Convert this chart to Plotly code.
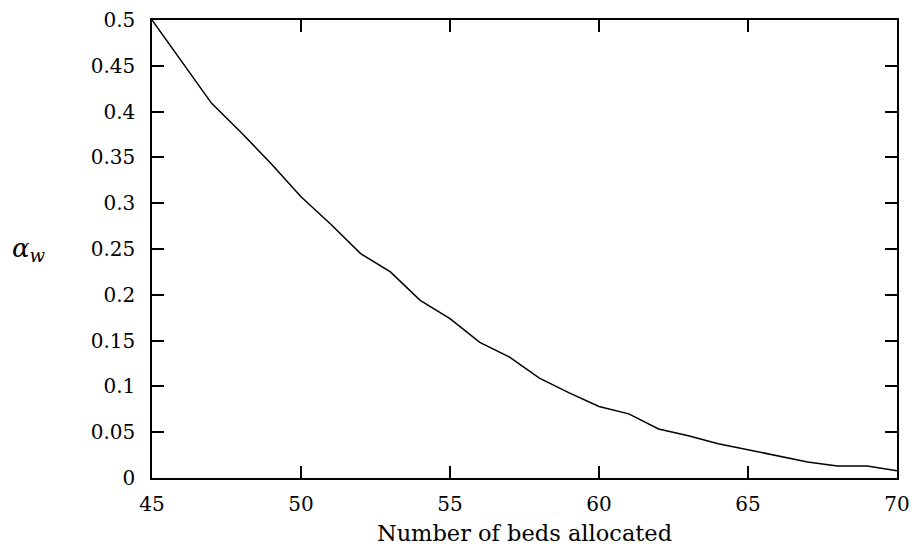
import plotly.graph_objects as go

beds = [45, 46, 47, 48, 49, 50, 51, 52, 53, 54, 55, 56, 57, 58, 59, 60,
        61, 62, 63, 64, 65, 66, 67, 68, 69, 70]
alpha_w = [0.5, 0.455, 0.409, 0.377, 0.343, 0.307, 0.277, 0.245, 0.225, 0.194,
           0.174, 0.148, 0.132, 0.109, 0.093, 0.078, 0.070, 0.0535, 0.0462,
           0.0375, 0.031, 0.0237, 0.0175, 0.0131, 0.0131, 0.008]

x_ticks = [45, 50, 55, 60, 65, 70]
y_ticks = [0, 0.05, 0.1, 0.15, 0.2, 0.25, 0.3, 0.35, 0.4, 0.45, 0.5]
y_ticktext = ["0", "0.05", "0.1", "0.15", "0.2", "0.25", "0.3", "0.35", "0.4", "0.45", "0.5"]

FONT = "DejaVu Serif, Liberation Serif, serif"

fig = go.Figure()
fig.add_trace(go.Scatter(x=beds, y=alpha_w, mode="lines",
                         line=dict(color="black", width=1.5),
                         showlegend=False, hoverinfo="skip"))

axis_common = dict(showgrid=False, zeroline=False, showline=True, mirror="ticks",
                   linecolor="black", linewidth=1.5, ticks="inside", ticklen=12,
                   tickwidth=1.5, tickcolor="black", automargin=False,
                   tickfont=dict(family=FONT, size=20, color="black"))

fig.update_xaxes(range=[45, 70], tickvals=x_ticks, ticktext=[str(v) for v in x_ticks],
                 title=dict(text="Number of beds allocated",
                            font=dict(family=FONT, size=22.5, color="black"),
                            standoff=10),
                 ticklabelstandoff=7,
                 **axis_common)
fig.update_yaxes(range=[0, 0.5], tickvals=y_ticks, ticktext=y_ticktext,
                 ticklabelstandoff=11,
                 **axis_common)

fig.add_annotation(text="<i>α</i><sub><i>w</i></sub>", xref="paper", yref="paper",
                   x=-0.19, y=0.5, xanchor="left", yanchor="middle", showarrow=False,
                   font=dict(family=FONT, size=26, color="black"))

fig.update_layout(width=912, height=549, paper_bgcolor="white", plot_bgcolor="white",
                  margin=dict(l=152, r=15, t=20, b=71))

fig.write_html("out.html")
